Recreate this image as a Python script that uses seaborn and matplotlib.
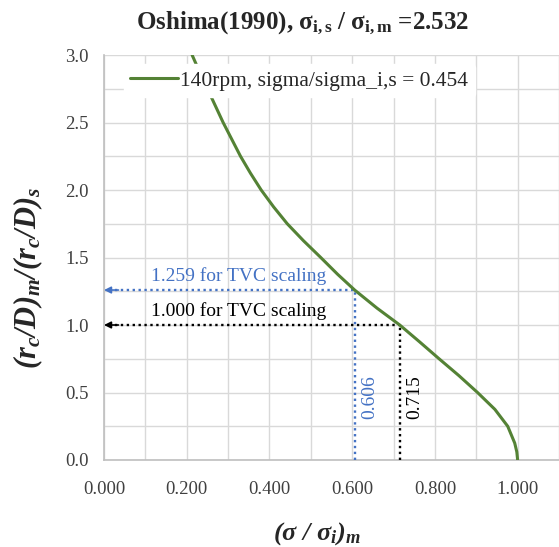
import matplotlib
matplotlib.use("Agg")
import matplotlib.pyplot as plt
import seaborn as sns
import pandas as pd

# --- data ---
sigma_ratio = [0.213, 0.231, 0.250, 0.269, 0.288, 0.309, 0.330, 0.354, 0.380,
               0.410, 0.443, 0.482, 0.524, 0.565, 0.606, 0.660, 0.715, 0.763,
               0.810, 0.858, 0.903, 0.945, 0.976, 0.993, 0.998, 1.000]
rc_ratio = [3.000, 2.875, 2.750, 2.625, 2.500, 2.375, 2.250, 2.125, 2.000,
            1.875, 1.750, 1.625, 1.500, 1.375, 1.259, 1.125, 1.000, 0.875,
            0.750, 0.625, 0.500, 0.375, 0.250, 0.125, 0.060, 0.000]
series_label = "140rpm, sigma/sigma_i,s = 0.454"

scale_y = [1.259, 1.000]
scale_x = [0.606, 0.715]
scale_text = ["1.259 for TVC scaling", "1.000 for TVC scaling"]
scale_xlab = ["0.606", "0.715"]
x_ticks = [0.0, 0.2, 0.4, 0.6, 0.8, 1.0]
y_ticks = [0.0, 0.5, 1.0, 1.5, 2.0, 2.5, 3.0]

GREEN = "#548235"
BLUE = "#4472C4"
colors = [BLUE, "black"]

sns.set_theme(style="whitegrid")
plt.rcParams["font.family"] = ["Liberation Serif", "DejaVu Serif"]
plt.rcParams["mathtext.fontset"] = "custom"
plt.rcParams["mathtext.rm"] = "Liberation Serif"
plt.rcParams["mathtext.it"] = "Liberation Serif:italic"
plt.rcParams["mathtext.bf"] = "Liberation Serif:bold"
plt.rcParams["mathtext.bfit"] = "Liberation Serif:bold:italic"

df = pd.DataFrame({"x": sigma_ratio, "y": rc_ratio})

fig = plt.figure(figsize=(5.59, 5.47), dpi=100)
ax = fig.add_axes([104 / 559, 87 / 547, 1 - 104 / 559, (460 - 55) / 547])

sns.lineplot(data=df, x="x", y="y", ax=ax, color=GREEN, lw=2.2,
             sort=False, estimator=None, label=series_label, zorder=4)

for yv, xv, txt, xl, c in zip(scale_y, scale_x, scale_text, scale_xlab, colors):
    ax.plot([0.012, xv], [yv, yv], ls=(0, (1, 1.5)), color=c, lw=1.7, zorder=3)
    ax.plot([xv, xv], [0, yv], ls=(0, (1, 1.5)), color=c, lw=1.7, zorder=3)
    ax.annotate("", xy=(0.0, yv), xytext=(0.035, yv),
                arrowprops=dict(arrowstyle="-|>", color=c, lw=1.2,
                                mutation_scale=10, shrinkA=0, shrinkB=0),
                zorder=5)
    ax.text(0.325, yv + 0.035, txt, color=c, fontsize=14, ha="center",
            va="bottom", zorder=5)
    ax.text(xv + 0.036, 0.467, xl, color=c, fontsize=14, rotation=90,
            ha="center", va="center", zorder=5)

ax.set_xlim(0, 1.1)
ax.set_ylim(0, 3.0)
ax.set_xticks(x_ticks)
ax.set_xticklabels([f"{v:.3f}" for v in x_ticks])
ax.set_yticks(y_ticks)
ax.set_yticklabels([f"{v:.1f}" for v in y_ticks])
ax.set_xticks([0.1, 0.3, 0.5, 0.7, 0.9, 1.1], minor=True)
ax.set_yticks([0.25, 0.75, 1.25, 1.75, 2.25, 2.75], minor=True)
ax.grid(True, which="both", color="#d9d9d9", lw=1.0)
ax.tick_params(axis="both", which="both", length=0, labelsize=13.5,
               colors="#404040")
ax.tick_params(axis="x", pad=15)
ax.tick_params(axis="y", pad=11)
for s in ["top", "right"]:
    ax.spines[s].set_visible(False)
for s in ["left", "bottom"]:
    ax.spines[s].set_color("#bfbfbf")
    ax.spines[s].set_linewidth(1.2)

ax.set_xlabel(r"$\mathbfit{(\sigma\ /\ \sigma_i)_m}$", fontsize=19)
ax.xaxis.set_label_coords((317 - 104) / 455, -(520 - 460) / 405)
ax.set_ylabel(r"$\mathbfit{(r_c/D)_m/(r_c/D)_s}$", fontsize=22)
ax.yaxis.set_label_coords(-(104 - 45) / 455, (460 - 278) / 405)

fig.text(303 / 559, 1 - 23 / 547,
         r"Oshima(1990), $\mathbf{\sigma_{i,s}}$ / $\mathbf{\sigma_{i,m}}$ =2.532",
         ha="center", va="center", fontsize=18, fontweight="bold")

leg = ax.legend(loc="upper left",
                bbox_to_anchor=((124 - 104) / 455, (460 - 64) / 405),
                borderaxespad=0, frameon=True, fontsize=15.5, handlelength=2.2,
                handletextpad=0.12, borderpad=0.3)
leg.get_frame().set_edgecolor("white")
leg.get_frame().set_facecolor("white")
leg.get_frame().set_alpha(1.0)

fig.savefig("out.png", dpi=100)
